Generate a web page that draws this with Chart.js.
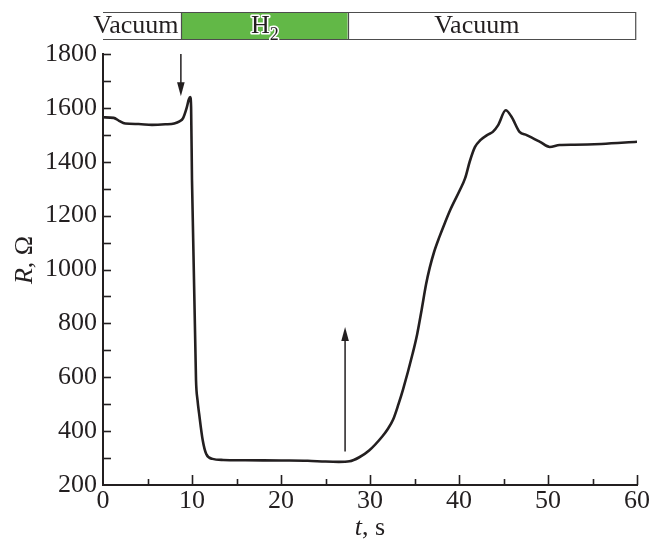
<!DOCTYPE html>
<html>
<head>
<meta charset="utf-8">
<script src="https://cdn.jsdelivr.net/npm/chart.js@4.4.1/dist/chart.umd.min.js"></script>
<style>
  html, body { margin: 0; padding: 0; background: #ffffff; }
  #wrap { width: 661px; height: 544px; position: relative; }
</style>
</head>
<body>
<div id="wrap"><canvas id="c" width="661" height="544"></canvas></div>
<script>
// ---- data ----
const timeS = [0, 1.2, 1.8, 2.5, 4, 5.5, 7, 8, 8.6, 9.0, 9.4, 9.65, 9.8, 9.9, 10.0, 10.45, 10.62, 10.8, 11.2, 11.6, 12.3, 13.5, 16, 20, 23, 25, 26.5, 27.7, 28.8, 29.9, 31.4, 32.0, 32.6, 33.2, 33.7, 34.8, 35.3, 35.8, 36.3, 36.7, 37.2, 37.8, 38.4, 39.0, 40.1, 40.7, 41.2, 41.8, 42.4, 43.2, 43.8, 44.4, 45.25, 45.9, 46.8, 47.6, 49.1, 50.2, 51.3, 53, 56, 60];
const resistance = [1565, 1563, 1552, 1542, 1540, 1537, 1539, 1542, 1550, 1562, 1600, 1632, 1640, 1600, 1330, 590, 515, 465, 367, 315, 297, 293, 292, 291, 290, 287, 286, 288, 303, 328, 381, 408, 443, 500, 553, 689, 760, 850, 945, 1005, 1065, 1121, 1172, 1220, 1295, 1340, 1400, 1455, 1480, 1500, 1511, 1536, 1591, 1567, 1511, 1499, 1474, 1455, 1462, 1463, 1466, 1474];

const xTickValues = [0, 10, 20, 30, 40, 50, 60];
const xMinorTicks = [5, 15, 25, 35, 45, 55];
const yTickValues = [200, 400, 600, 800, 1000, 1200, 1400, 1600, 1800];
const yMinorTicks = [300, 500, 700, 900, 1100, 1300, 1500, 1700];

// gas phases along the top bar (seconds)
const phaseBounds = [0, 8.8, 27.5, 59.8];
const phaseNames = ['Vacuum', 'H2', 'Vacuum'];
const phaseLabelAt = [3.7, 18.2, 42.0];

// arrows: time, start R, tip R
const arrowT = [8.75, 27.2];
const arrowFromR = [1800, 324];
const arrowToR = [1643, 787];

const INK = '#231f20';
const SERIF = '"Liberation Serif", "DejaVu Serif", serif';

const extras = {
  id: 'extras',
  afterDraw(chart) {
    const ctx = chart.ctx;
    const xs = chart.scales.x, ys = chart.scales.y;
    const area = chart.chartArea;
    ctx.save();
    ctx.strokeStyle = INK;
    ctx.lineWidth = 1.6;
    // inward ticks
    xTickValues.forEach(v => {
      if (v === 0) return;
      const px = Math.round(xs.getPixelForValue(v)) + 0.5;
      ctx.beginPath(); ctx.moveTo(px, area.bottom); ctx.lineTo(px, area.bottom - 10); ctx.stroke();
    });
    xMinorTicks.forEach(v => {
      const px = Math.round(xs.getPixelForValue(v)) + 0.5;
      ctx.beginPath(); ctx.moveTo(px, area.bottom); ctx.lineTo(px, area.bottom - 6); ctx.stroke();
    });
    yTickValues.forEach(v => {
      if (v === 200) return;
      const py = Math.round(ys.getPixelForValue(v)) + 0.5;
      ctx.beginPath(); ctx.moveTo(area.left, py); ctx.lineTo(area.left + 8, py); ctx.stroke();
    });
    yMinorTicks.forEach(v => {
      const py = Math.round(ys.getPixelForValue(v)) + 0.5;
      ctx.beginPath(); ctx.moveTo(area.left, py); ctx.lineTo(area.left + 8, py); ctx.stroke();
    });

    // arrows
    ctx.fillStyle = INK;
    ctx.lineWidth = 1.5;
    arrowT.forEach((t, i) => {
      const px = xs.getPixelForValue(t);
      const y0 = ys.getPixelForValue(arrowFromR[i]);
      const y1 = ys.getPixelForValue(arrowToR[i]);
      const dir = y1 > y0 ? 1 : -1;
      const headLen = 14, headHalf = 3.8;
      ctx.beginPath(); ctx.moveTo(px, y0); ctx.lineTo(px, y1 - dir * headLen * 0.8); ctx.stroke();
      ctx.beginPath();
      ctx.moveTo(px, y1);
      ctx.lineTo(px - headHalf, y1 - dir * headLen);
      ctx.lineTo(px + headHalf, y1 - dir * headLen);
      ctx.closePath(); ctx.fill();
    });

    // top phase bar
    const barTop = 12, barBot = 39;
    for (let i = 0; i < phaseNames.length; i++) {
      const a = xs.getPixelForValue(phaseBounds[i]);
      const b = xs.getPixelForValue(phaseBounds[i + 1]);
      ctx.fillStyle = phaseNames[i] === 'H2' ? '#62b847' : '#ffffff';
      ctx.fillRect(a, barTop, b - a, barBot - barTop);
    }
    ctx.strokeStyle = '#4d4d4d';
    ctx.lineWidth = 1.2;
    const bl = xs.getPixelForValue(phaseBounds[0]);
    const br = xs.getPixelForValue(phaseBounds[phaseBounds.length - 1]);
    ctx.beginPath();
    ctx.moveTo(bl, barTop + 0.5); ctx.lineTo(br + 0.5, barTop + 0.5); ctx.lineTo(br + 0.5, barBot + 0.5); ctx.lineTo(bl, barBot + 0.5);
    ctx.stroke();
    for (let i = 1; i < phaseBounds.length - 1; i++) {
      const px = Math.round(xs.getPixelForValue(phaseBounds[i])) + 0.5;
      ctx.beginPath(); ctx.moveTo(px, barTop); ctx.lineTo(px, barBot + 0.5); ctx.stroke();
    }
    ctx.textBaseline = 'alphabetic';
    for (let i = 0; i < phaseNames.length; i++) {
      const cx = xs.getPixelForValue(phaseLabelAt[i]);
      if (phaseNames[i] === 'H2') {
        ctx.font = '26px ' + SERIF;
        const wH = ctx.measureText('H').width;
        ctx.font = '18px ' + SERIF;
        const w2 = ctx.measureText('2').width;
        const x0 = cx - (wH + w2) / 2;
        ctx.lineJoin = 'round';
        ctx.strokeStyle = '#ffffff'; ctx.lineWidth = 3;
        ctx.fillStyle = INK;
        ctx.textAlign = 'left';
        ctx.font = '26px ' + SERIF;
        ctx.strokeText('H', x0, 33); ctx.fillText('H', x0, 33);
        ctx.font = '18px ' + SERIF;
        ctx.strokeText('2', x0 + wH, 40); ctx.fillText('2', x0 + wH, 40);
      } else {
        ctx.font = '26px ' + SERIF;
        ctx.fillStyle = INK;
        ctx.textAlign = 'center';
        ctx.fillText(phaseNames[i], cx, 33);
      }
    }

    // axis titles (italic variable, upright unit)
    ctx.fillStyle = INK;
    ctx.textAlign = 'left';
    ctx.textBaseline = 'alphabetic';
    // x title
    ctx.font = 'italic 26px ' + SERIF;
    const wt = ctx.measureText('t').width;
    ctx.font = '26px ' + SERIF;
    const ws = ctx.measureText(', s').width;
    let xx = (area.left + area.right) / 2 - (wt + ws) / 2;
    ctx.font = 'italic 26px ' + SERIF; ctx.fillText('t', xx, 535);
    ctx.font = '26px ' + SERIF; ctx.fillText(', s', xx + wt, 535);
    // y title
    ctx.save();
    ctx.translate(32, 260);
    ctx.rotate(-Math.PI / 2);
    ctx.font = 'italic 26px ' + SERIF;
    const wR = ctx.measureText('R').width;
    ctx.font = '26px ' + SERIF;
    const wO = ctx.measureText(', Ω').width;
    const y0 = -(wR + wO) / 2;
    ctx.font = 'italic 26px ' + SERIF; ctx.fillText('R', y0, 0);
    ctx.font = '26px ' + SERIF; ctx.fillText(', Ω', y0 + wR, 0);
    ctx.restore();

    ctx.restore();
  }
};

new Chart(document.getElementById('c'), {
  type: 'line',
  data: {
    datasets: [{
      data: timeS.map((t, i) => ({ x: t, y: resistance[i] })),
      borderColor: INK,
      borderWidth: 2.6,
      pointRadius: 0,
      fill: false,
      cubicInterpolationMode: 'monotone'
    }]
  },
  options: {
    responsive: false,
    animation: false,
    events: [],
    layout: { padding: { top: 54, right: 24, left: 0, bottom: 0 } },
    plugins: { legend: { display: false }, tooltip: { enabled: false }, title: { display: false } },
    scales: {
      x: {
        type: 'linear', min: 0, max: 60,
        afterFit: s => { s.height = 59; },
        afterBuildTicks: s => { s.ticks = xTickValues.map(v => ({ value: v })); },
        grid: { display: false, drawTicks: false },
        border: { display: true, color: INK, width: 2 },
        ticks: { color: INK, font: { family: SERIF, size: 26 }, padding: 1, maxRotation: 0, autoSkip: false, callback: v => String(v) }
      },
      y: {
        type: 'linear', min: 200, max: 1800,
        afterFit: s => { s.width = 103; },
        afterBuildTicks: s => { s.ticks = yTickValues.map(v => ({ value: v })); },
        grid: { display: false, drawTicks: false },
        border: { display: true, color: INK, width: 2 },
        ticks: { color: INK, font: { family: SERIF, size: 26 }, padding: 6, autoSkip: false, callback: v => String(v) }
      }
    }
  },
  plugins: [extras]
});
</script>
</body>
</html>
